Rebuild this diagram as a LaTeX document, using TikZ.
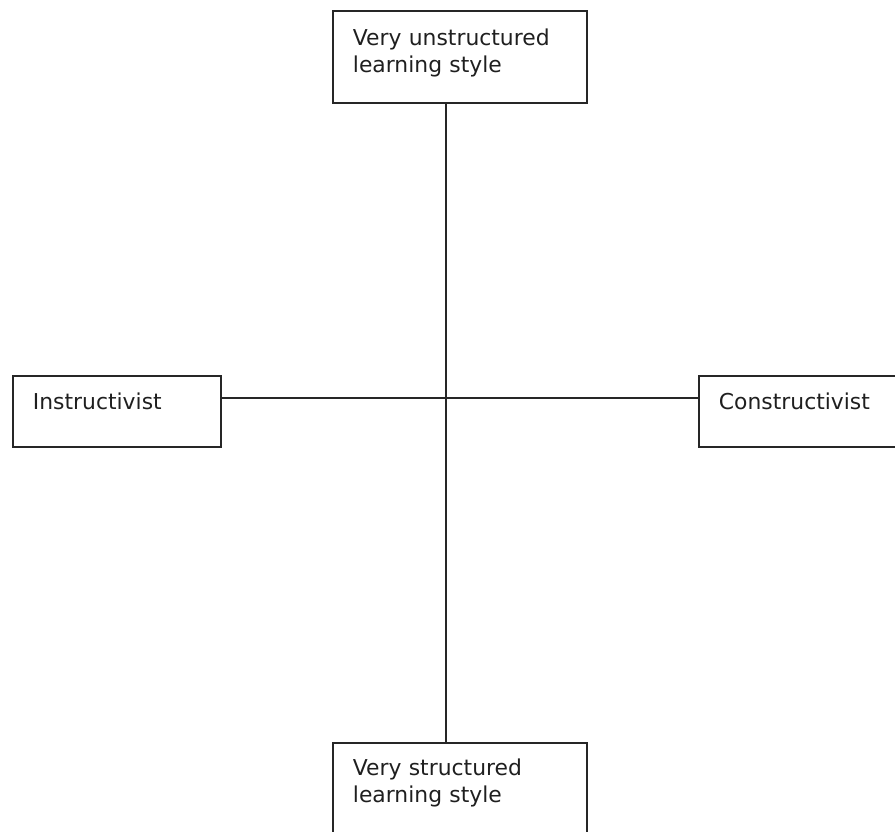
\documentclass[tikz,border=0pt]{standalone}
\usepackage{fontspec}
\setmainfont{DejaVu Sans}

\begin{document}
\begin{tikzpicture}[x=0.75pt,y=-0.75pt,
  box/.style={draw=black!85,line width=1.4pt,anchor=north west,align=left,inner xsep=15pt,inner ysep=0pt,
    text=black!88,font=\fontsize{16.4}{20.25}\selectfont},
  axis/.style={draw=black!85,line width=1.4pt}]
\useasboundingbox (0,0) rectangle (895,831);
\node[box,text width=160.5pt,text height=26.25pt,text depth=42.75pt] (top) at (332,10) {Very unstructured\\learning style};
\node[box,text width=126pt,text height=25.5pt,text depth=27.75pt] (left) at (12,375) {Instructivist};
\node[box,text width=150pt,text height=25.5pt,text depth=27.75pt] (right) at (698,375) {Constructivist};
\node[box,text width=160.5pt,text height=24.75pt,text depth=52.5pt] (bot) at (332,742) {Very structured\\learning style};
\coordinate (cross) at (446,398);

% the two axes
\draw[axis] (top.south -| cross) -- (bot.north -| cross);
\draw[axis] (left.east |- cross) -- (right.west |- cross);
\end{tikzpicture}
\end{document}
